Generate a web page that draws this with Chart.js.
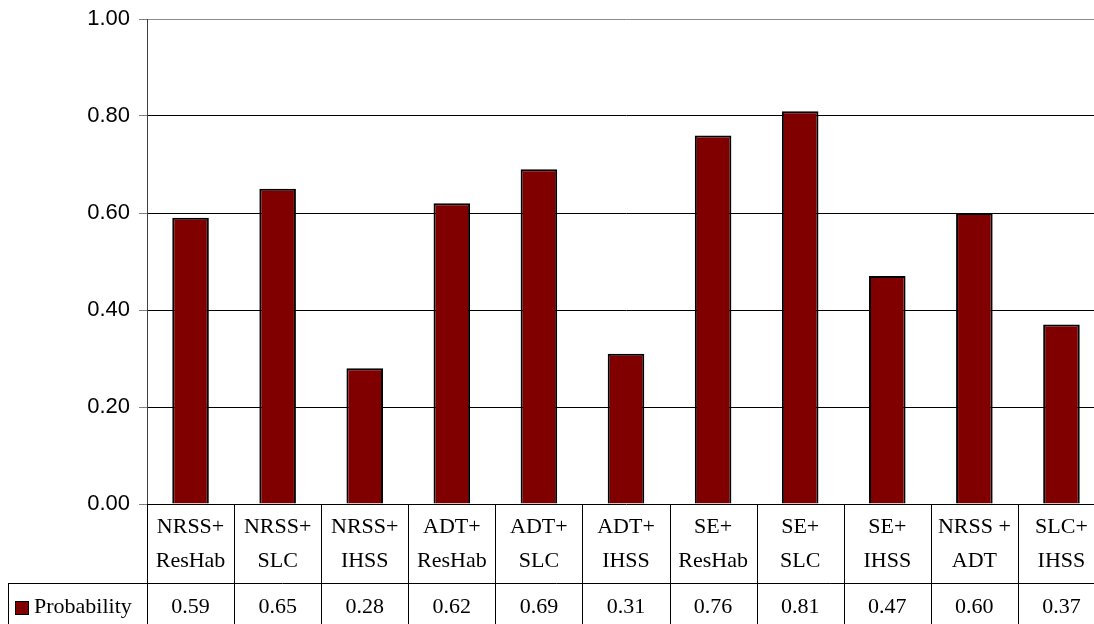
<!DOCTYPE html>
<html>
<head>
<meta charset="utf-8">
<script src="https://cdn.jsdelivr.net/npm/chart.js@4/dist/chart.umd.min.js"></script>
<style>
  html, body { margin: 0; padding: 0; background: #fff; }
  #clip { width: 1094px; height: 624px; overflow: hidden; }
  #wrap { position: relative; width: 1105px; height: 624px; }
</style>
</head>
<body>
<div id="clip"><div id="wrap"><canvas id="chart"></canvas></div></div>
<script>
// category labels (two lines each) and series values
const categories = [
  ['NRSS+', 'ResHab'], ['NRSS+', 'SLC'], ['NRSS+', 'IHSS'],
  ['ADT+', 'ResHab'], ['ADT+', 'SLC'], ['ADT+', 'IHSS'],
  ['SE+', 'ResHab'], ['SE+', 'SLC'], ['SE+', 'IHSS'],
  ['NRSS +', 'ADT'], ['SLC+', 'IHSS']
];
const probability = [0.59, 0.65, 0.28, 0.62, 0.69, 0.31, 0.76, 0.81, 0.47, 0.60, 0.37];
const seriesName = 'Probability';
const yTicks = [0, 0.2, 0.4, 0.6, 0.8, 1.0];

const BAR_RED = '#800000';
const SERIF = '"Liberation Serif", "Times New Roman", serif';
const SANS = '"Liberation Sans", Arial, sans-serif';

// data table drawn under the plot, columns follow the x scale
const dataTable = {
  id: 'dataTable',
  afterDraw(chart) {
    const ctx = chart.ctx;
    const area = chart.chartArea;
    const x = chart.scales.x;
    const n = categories.length;
    const colW = (area.right - area.left) / n;
    const headTop = area.bottom;
    const rowTop = 583;
    const bottom = 630;
    const tableLeft = 8.5;

    ctx.save();
    ctx.strokeStyle = '#000';
    ctx.lineWidth = 1;
    ctx.beginPath();
    for (let i = 0; i <= n; i++) {
      const bx = Math.round(area.left + i * colW) + 0.5;
      ctx.moveTo(bx, headTop);
      ctx.lineTo(bx, bottom);
    }
    ctx.moveTo(tableLeft, rowTop + 0.5);
    ctx.lineTo(area.right, rowTop + 0.5);
    ctx.moveTo(tableLeft, rowTop);
    ctx.lineTo(tableLeft, bottom);
    ctx.stroke();

    ctx.fillStyle = '#000';
    ctx.font = '22px ' + SERIF;
    ctx.textAlign = 'center';
    ctx.textBaseline = 'middle';
    categories.forEach((lab, i) => {
      const cx = x.getPixelForValue(i);
      ctx.fillText(lab[0], cx, headTop + 23);
      ctx.fillText(lab[1], cx, headTop + 57);
      ctx.fillText(probability[i].toFixed(2), cx, rowTop + 24);
    });

    // legend key + series name
    ctx.fillStyle = BAR_RED;
    ctx.fillRect(15.5, rowTop + 18.5, 13, 13);
    ctx.strokeRect(15.5, rowTop + 18.5, 13, 13);
    ctx.fillStyle = '#000';
    ctx.textAlign = 'left';
    ctx.fillText(seriesName, 34, rowTop + 24);
    ctx.restore();
  }
};

new Chart(document.getElementById('chart'), {
  type: 'bar',
  data: {
    labels: categories.map(c => c.join(' ')),
    datasets: [{
      label: seriesName,
      data: probability,
      backgroundColor: BAR_RED,
      borderColor: '#000',
      borderWidth: 2,
      categoryPercentage: 1,
      barPercentage: 0.42
    }]
  },
  options: {
    responsive: true,
    maintainAspectRatio: false,
    animation: false,
    layout: { padding: { top: 19, right: 0, bottom: 120, left: 0 } },
    plugins: { legend: { display: false }, tooltip: { enabled: false } },
    scales: {
      x: { display: false, offset: true },
      y: {
        min: 0,
        max: 1,
        afterFit(scale) {
          scale.width = 147;
          scale.paddingTop = 0;
          scale.paddingBottom = 0;
        },
        afterBuildTicks(scale) { scale.ticks = yTicks.map(v => ({ value: v })); },
        ticks: {
          color: '#000',
          font: { family: SANS, size: 22 },
          padding: 9,
          callback: v => v.toFixed(2)
        },
        grid: {
          color: ctx => ctx.tick && ctx.tick.value === 1 ? '#8c8c8c' : '#000',
          tickColor: '#808080',
          tickLength: 8,
          lineWidth: 1
        },
        border: { color: '#404040', width: 1 }
      }
    }
  },
  plugins: [dataTable]
});
</script>
</body>
</html>
